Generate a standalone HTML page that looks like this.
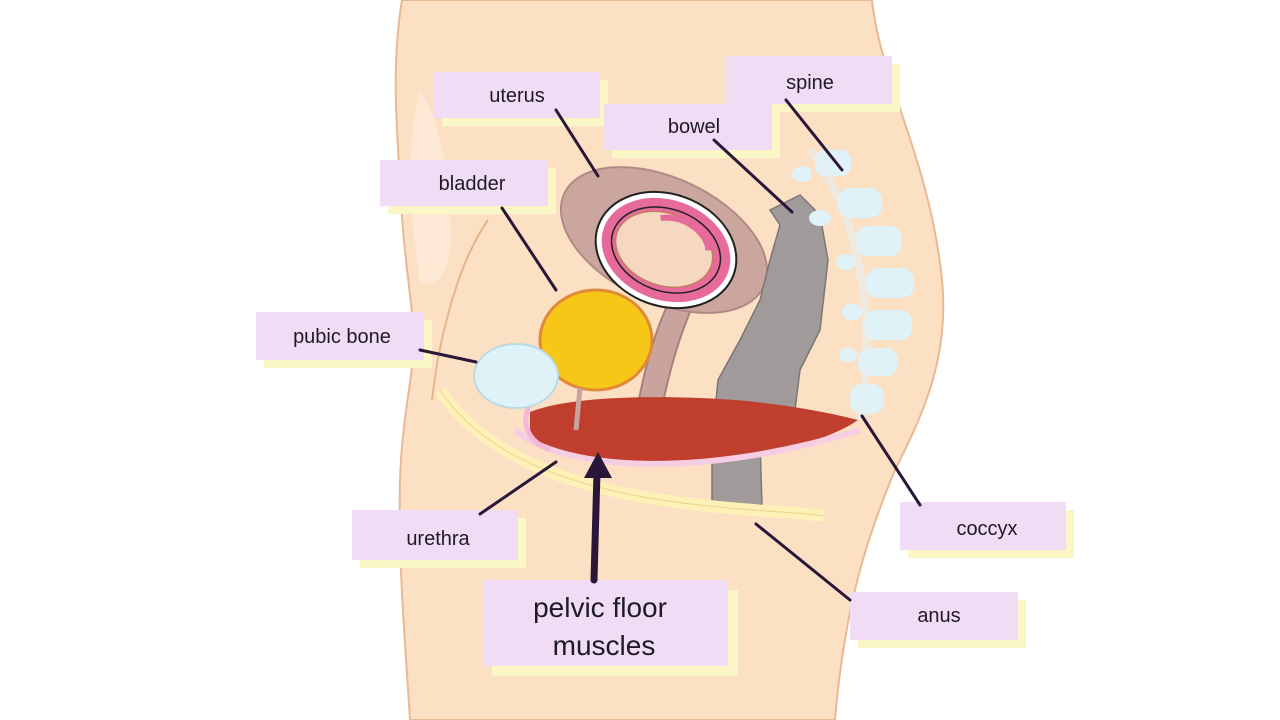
<!DOCTYPE html>
<html><head><meta charset="utf-8"><style>
html,body{margin:0;padding:0;background:#fff;}
svg{display:block}
text{font-family:"Liberation Sans",sans-serif;fill:#1e1a24}
</style></head><body>
<svg width="1280" height="720" viewBox="0 0 1280 720" xmlns="http://www.w3.org/2000/svg">
<rect width="1280" height="720" fill="#fff"/>
<!-- body -->
<path d="M402,0 L872,0 C880,80 930,160 942,280 C950,360 920,420 895,470 C870,530 845,600 835,720 L410,720 C405,640 398,560 400,480 C402,420 412,380 415,340 C410,290 402,240 400,180 C396,120 392,60 402,0 Z" fill="#fce0c4" stroke="#e9b992" stroke-width="2"/>
<path d="M420,90 C440,120 452,180 450,250 C446,280 430,290 420,280 C410,220 405,150 420,90 Z" fill="#fde9d6"/>
<path d="M488,220 C460,260 440,330 432,400" stroke="#e7b58c" stroke-width="2" fill="none"/>
<!-- uterus -->
<path d="M700,290 C680,330 665,380 655,448 L630,446 C640,390 650,340 670,300 Z" fill="#c9a39d" stroke="#a9807a" stroke-width="2"/>
<ellipse cx="664" cy="240" rx="110" ry="62" transform="rotate(25 664 240)" fill="#cba69f" stroke="#b08a84" stroke-width="2"/>
<!-- fetus -->
<g transform="rotate(20 666 250)">
<ellipse cx="666" cy="250" rx="72" ry="56" fill="#fff" stroke="#222" stroke-width="2"/>
<ellipse cx="666" cy="250" rx="66" ry="50" fill="#e66a9a"/>
<ellipse cx="666" cy="250" rx="56" ry="41" fill="none" stroke="#222" stroke-width="1.5"/>
<ellipse cx="664" cy="250" rx="50" ry="36" fill="#f6d7c0" stroke="#c08060" stroke-width="1.5"/>
<path d="M650,222 C670,210 700,220 706,236" stroke="#e66a9a" stroke-width="6" fill="none"/>
</g>
<!-- bowel -->
<path d="M770,210 L800,195 L820,215 L828,260 L820,330 L800,370 L795,410 L775,430 L760,440 L762,505 L712,505 L712,440 L718,380 L740,340 L760,300 L770,260 L780,225 Z" fill="#a09a9a" stroke="#7d7676" stroke-width="1.5"/>
<!-- pelvic floor -->
<path d="M530,412 C560,400 620,395 700,398 C760,400 820,410 858,420 C830,440 760,460 690,462 C620,464 550,455 530,440 Z" fill="#bf3e2e"/>
<path d="M515,430 C560,470 700,480 860,430" stroke="#f6cde3" stroke-width="6" fill="none"/>
<path d="M440,390 C480,450 560,490 700,505 C760,512 800,512 824,516" stroke="#fdf1b8" stroke-width="12" fill="none"/>
<path d="M440,390 C480,450 560,490 700,505 C760,512 800,512 824,516" stroke="#e9d48a" stroke-width="1" fill="none"/>
<!-- urethra -->
<path d="M532,400 C520,420 525,440 550,450" stroke="#f4b8d6" stroke-width="5" fill="none"/>
<!-- bladder -->
<ellipse cx="596" cy="340" rx="56" ry="50" fill="#f7c718" stroke="#e08a3a" stroke-width="3"/>
<path d="M580,388 L576,430" stroke="#c9a39d" stroke-width="5"/>
<!-- pubic bone -->
<ellipse cx="516" cy="376" rx="42" ry="32" fill="#dff2f7" stroke="#b8dbe6" stroke-width="2"/>
<!-- spine -->
<g fill="#dff2f7">
<rect x="815" y="150" width="36" height="26" rx="10"/>
<rect x="838" y="188" width="44" height="30" rx="12"/>
<rect x="856" y="226" width="46" height="30" rx="12"/>
<rect x="866" y="268" width="48" height="30" rx="12"/>
<rect x="864" y="310" width="48" height="30" rx="12"/>
<rect x="858" y="348" width="40" height="28" rx="12"/>
<rect x="850" y="384" width="34" height="30" rx="12"/>
<ellipse cx="802" cy="174" rx="10" ry="8"/><ellipse cx="820" cy="218" rx="11" ry="8"/>
<ellipse cx="846" cy="262" rx="10" ry="8"/><ellipse cx="852" cy="312" rx="10" ry="8"/>
<ellipse cx="848" cy="355" rx="9" ry="7"/>
</g>
<path d="M810,150 C850,200 880,300 860,420" stroke="#e6eef2" stroke-width="8" fill="none" opacity=".6"/>
<!-- label boxes -->
<g>
<rect x="442" y="80" width="166" height="46" fill="#fbf6c6"/><rect x="434" y="72" width="166" height="46" fill="#f0dcf5"/>
<rect x="734" y="64" width="166" height="48" fill="#fbf6c6"/><rect x="726" y="56" width="166" height="48" fill="#f0dcf5"/>
<rect x="612" y="112" width="168" height="46" fill="#fbf6c6"/><rect x="604" y="104" width="168" height="46" fill="#f0dcf5"/>
<rect x="388" y="168" width="168" height="46" fill="#fbf6c6"/><rect x="380" y="160" width="168" height="46" fill="#f0dcf5"/>
<rect x="264" y="320" width="168" height="48" fill="#fbf6c6"/><rect x="256" y="312" width="168" height="48" fill="#f0dcf5"/>
<rect x="360" y="518" width="166" height="50" fill="#fbf6c6"/><rect x="352" y="510" width="166" height="50" fill="#f0dcf5"/>
<rect x="492" y="590" width="246" height="86" fill="#fbf6c6"/><rect x="484" y="580" width="244" height="86" fill="#f0dcf5"/>
<rect x="908" y="510" width="166" height="48" fill="#fbf6c6"/><rect x="900" y="502" width="166" height="48" fill="#f0dcf5"/>
<rect x="858" y="600" width="168" height="48" fill="#fbf6c6"/><rect x="850" y="592" width="168" height="48" fill="#f0dcf5"/>
</g>
<g font-size="20" text-anchor="middle">
<text x="517" y="102">uterus</text>
<text x="810" y="89">spine</text>
<text x="694" y="133">bowel</text>
<text x="472" y="190">bladder</text>
<text x="342" y="343">pubic bone</text>
<text x="438" y="545">urethra</text>
<text x="987" y="535">coccyx</text>
<text x="939" y="622">anus</text>
<text x="600" y="617" font-size="28">pelvic floor</text>
<text x="604" y="655" font-size="28">muscles</text>
</g>
<!-- leaders -->
<g stroke="#2a1638" stroke-width="3" stroke-linecap="round">
<line x1="556" y1="110" x2="598" y2="176"/>
<line x1="786" y1="100" x2="842" y2="170"/>
<line x1="714" y1="140" x2="792" y2="212"/>
<line x1="502" y1="208" x2="556" y2="290"/>
<line x1="420" y1="350" x2="476" y2="362"/>
<line x1="480" y1="514" x2="556" y2="462"/>
<line x1="920" y1="505" x2="862" y2="416"/>
<line x1="850" y1="600" x2="756" y2="524"/>
<line x1="594" y1="580" x2="597" y2="472" stroke-width="7"/>
</g>
<path d="M598,452 L584,478 L612,478 Z" fill="#2a1638"/>
</svg>
</body></html>
